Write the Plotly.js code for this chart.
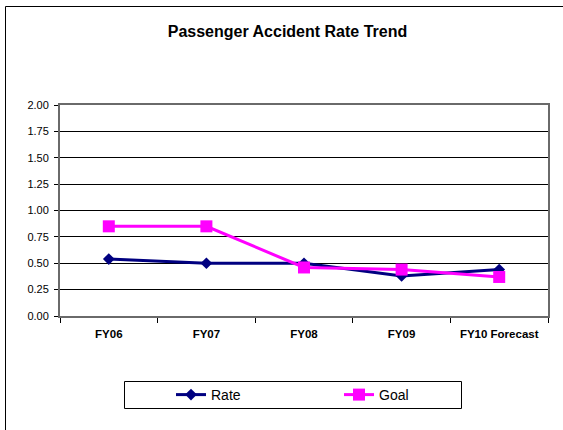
<!DOCTYPE html>
<html>
<head>
<meta charset="utf-8">
<script src="https://cdn.plot.ly/plotly-3.0.1.min.js"></script>
<style>
  html, body { margin: 0; padding: 0; background: #fff; }
  #chart { width: 563px; height: 430px; }
</style>
</head>
<body>
<div id="chart"></div>
<script>
// Fiscal years on the category axis
const years = ['FY06', 'FY07', 'FY08', 'FY09', 'FY10 Forecast'];
// Passenger accident rate per year
const rate = [0.54, 0.50, 0.50, 0.38, 0.44];
// Target rate per year
const goal = [0.85, 0.85, 0.46, 0.44, 0.37];
// Value axis ticks
const yTicks = [0, 0.25, 0.5, 0.75, 1.0, 1.25, 1.5, 1.75, 2.0];
const yTickText = ['0.00', '0.25', '0.50', '0.75', '1.00', '1.25', '1.50', '1.75', '2.00'];

const FONT = '"Liberation Sans", Arial, sans-serif';

// Plot area in pixels, used to place the frame and legend box
const W = 563, H = 430;
const L = 60, R = 15, T = 105, B = 114;
const pw = W - L - R, ph = H - T - B;
const px = x => (x - L) / pw;
const py = y => (H - B - y) / ph;

const traces = [
  {
    x: years, y: rate, name: 'Rate', type: 'scatter', mode: 'lines+markers',
    line: { color: '#000080', width: 3 },
    marker: { symbol: 'diamond', size: 9, color: '#000080' }
  },
  {
    x: years, y: goal, name: 'Goal', type: 'scatter', mode: 'lines+markers',
    line: { color: '#FF00FF', width: 3 },
    marker: { symbol: 'square', size: 12, color: '#FF00FF' }
  }
];

const layout = {
  width: W, height: H,
  margin: { l: L, r: R, t: T, b: B, pad: 0 },
  paper_bgcolor: '#ffffff',
  plot_bgcolor: '#ffffff',
  font: { family: FONT, color: '#000000' },
  title: {
    text: '<b>Passenger Accident Rate Trend</b>',
    font: { family: FONT, size: 16, color: '#000000' },
    xref: 'container', yref: 'container',
    x: 287.5 / W, y: 1 - 31 / H, xanchor: 'center', yanchor: 'middle'
  },
  xaxis: {
    type: 'category',
    range: [-0.5, 4.5],
    tickson: 'boundaries',
    ticks: 'outside', ticklen: 5, tickwidth: 1, tickcolor: '#000000',
    showgrid: false, zeroline: false,
    showline: true, linecolor: '#6a6a6a', linewidth: 2, mirror: true,
    tickfont: { family: FONT, size: 11.5, weight: 'bold', color: '#000000' },
    ticklabelstandoff: 6,
    fixedrange: true
  },
  yaxis: {
    range: [0, 2],
    tickvals: yTicks, ticktext: yTickText,
    ticks: 'outside', ticklen: 4, tickwidth: 1, tickcolor: '#000000',
    showgrid: true, gridcolor: '#000000', gridwidth: 1,
    zeroline: false,
    showline: true, linecolor: '#6a6a6a', linewidth: 2, mirror: true,
    tickfont: { family: FONT, size: 11, color: '#000000' },
    ticklabelstandoff: 3,
    fixedrange: true
  },
  showlegend: true,
  legend: {
    orientation: 'h',
    x: px(171), y: py(395),
    xanchor: 'left', yanchor: 'middle',
    bgcolor: 'rgba(0,0,0,0)', borderwidth: 0,
    entrywidth: 123,
    font: { family: FONT, size: 14, color: '#000000' },
    itemclick: false, itemdoubleclick: false
  },
  shapes: [
    // Outer chart frame
    {
      type: 'rect', xref: 'paper', yref: 'paper',
      x0: px(5.5), x1: px(600), y0: py(480), y1: py(6.5),
      line: { color: '#000000', width: 1 }, fillcolor: 'rgba(0,0,0,0)', layer: 'below'
    },
    // Legend frame
    {
      type: 'rect', xref: 'paper', yref: 'paper',
      x0: px(124.5), x1: px(461.5), y0: py(408.5), y1: py(381.5),
      line: { color: '#000000', width: 1 }, fillcolor: 'rgba(0,0,0,0)', layer: 'below'
    }
  ]
};

Plotly.newPlot('chart', traces, layout, { displayModeBar: false, staticPlot: true });
</script>
</body>
</html>
